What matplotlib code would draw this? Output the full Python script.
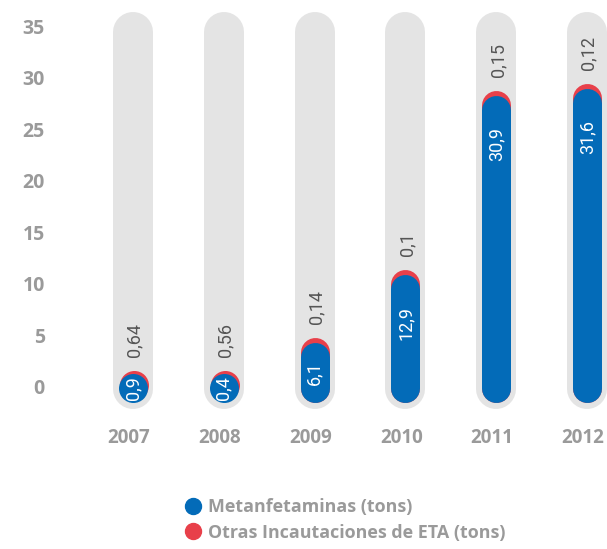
import matplotlib
matplotlib.use("Agg")
import matplotlib.pyplot as plt
from matplotlib.lines import Line2D

years = ["2007", "2008", "2009", "2010", "2011", "2012"]
metanfetaminas = [0.9, 0.4, 6.1, 12.9, 30.9, 31.6]
otras = [0.64, 0.56, 0.14, 0.1, 0.15, 0.12]
met_labels = ["0,9", "0,4", "6,1", "12,9", "30,9", "31,6"]
otras_labels = ["0,64", "0,56", "0,14", "0,1", "0,15", "0,12"]
yticks = [0, 5, 10, 15, 20, 25, 30, 35]

BLUE = "#036BB8"
RED = "#E8404A"
GRAY_BG = "#E4E4E4"
TXT_GRAY = "#9A9A9A"

DPI = 100
W, H = 607, 549
PX_PER_UNIT = 10.31

fig = plt.figure(figsize=(W / DPI, H / DPI), dpi=DPI)
top_px, bot_px = 387 - 36.5 * PX_PER_UNIT, 387 + 2.6 * PX_PER_UNIT
ax = fig.add_axes([60 / W, 1 - bot_px / H, (W - 60) / W, (bot_px - top_px) / H])
ax.set_ylim(-2.6, 36.5)
ax.set_xlim((60 - 133) / 90.8, (607 - 133) / 90.8)
for s in ax.spines.values():
    s.set_visible(False)

pt = 72 / DPI
bg_lw = 40 * pt
bar_lw = 29 * pt
R = 14.5 / PX_PER_UNIT       # round cap radius in data units
BASE = -1.55                  # bottom of the blue pill
SCALE = 0.965

for i, (m, o) in enumerate(zip(metanfetaminas, otras)):
    # background pill
    ax.plot([i, i], [-0.2, 34.4], color=GRAY_BG, lw=bg_lw,
            solid_capstyle="round", zorder=1)
    y0 = BASE + R
    circle = BASE + SCALE * m < BASE + 2 * R
    if circle:
        top = BASE + 2 * R
        cap = 0.3
        ax.plot([i + 0.01], [y0 + cap], marker="o", markersize=bar_lw,
                markerfacecolor=RED, markeredgewidth=0, linestyle="none", zorder=2)
        ax.plot([i], [y0], marker="o", markersize=bar_lw,
                markerfacecolor=BLUE, markeredgewidth=0, linestyle="none", zorder=3)
    else:
        top = BASE + SCALE * m
        cap = 0.5
        y1 = top - R
        ax.plot([i, i], [y0, y1 + cap], color=RED, lw=bar_lw,
                solid_capstyle="round", zorder=2)
        ax.plot([i, i], [y0, y1], color=BLUE, lw=bar_lw,
                solid_capstyle="round", zorder=3)
    mid = (BASE + top) / 2
    yc = max(mid, top - 4.7)
    ax.text(i, yc, met_labels[i], rotation=90, ha="center", va="center",
            color="white", fontsize=13, family="Roboto", zorder=4)
    ax.text(i + 0.02, top + cap + 1.3, otras_labels[i], rotation=90,
            ha="center", va="bottom", color="#555555", fontsize=13,
            family="Roboto", zorder=4)

ax.set_yticks(yticks)
ax.set_yticklabels([str(t) for t in yticks])
ax.set_xticks([i - 0.045 for i in range(len(years))])
ax.set_xticklabels(years)
ax.tick_params(axis="y", length=0, pad=10.8, labelsize=14, labelcolor=TXT_GRAY)
ax.tick_params(axis="x", length=0, pad=10, labelsize=13.5, labelcolor=TXT_GRAY)
for lab in ax.get_yticklabels() + ax.get_xticklabels():
    lab.set_fontfamily("Open Sans")
    lab.set_fontweight("bold")

handles = [
    Line2D([], [], marker="o", linestyle="none", markersize=11.5,
           markerfacecolor=BLUE, markeredgecolor=BLUE),
    Line2D([], [], marker="o", linestyle="none", markersize=11.5,
           markerfacecolor=RED, markeredgecolor=RED),
]
leg = fig.legend(handles, ["Metanfetaminas (tons)", "Otras Incautaciones de ETA (tons)"],
                 loc="center left", bbox_to_anchor=(185 / W, 1 - 520 / H),
                 frameon=False, borderpad=0, borderaxespad=0,
                 handlelength=0.85, handletextpad=0.45, labelspacing=0.42,
                 prop={"family": "Open Sans", "weight": "bold", "size": 12.9})
for t in leg.get_texts():
    t.set_color(TXT_GRAY)

fig.savefig("out.png", dpi=DPI)
